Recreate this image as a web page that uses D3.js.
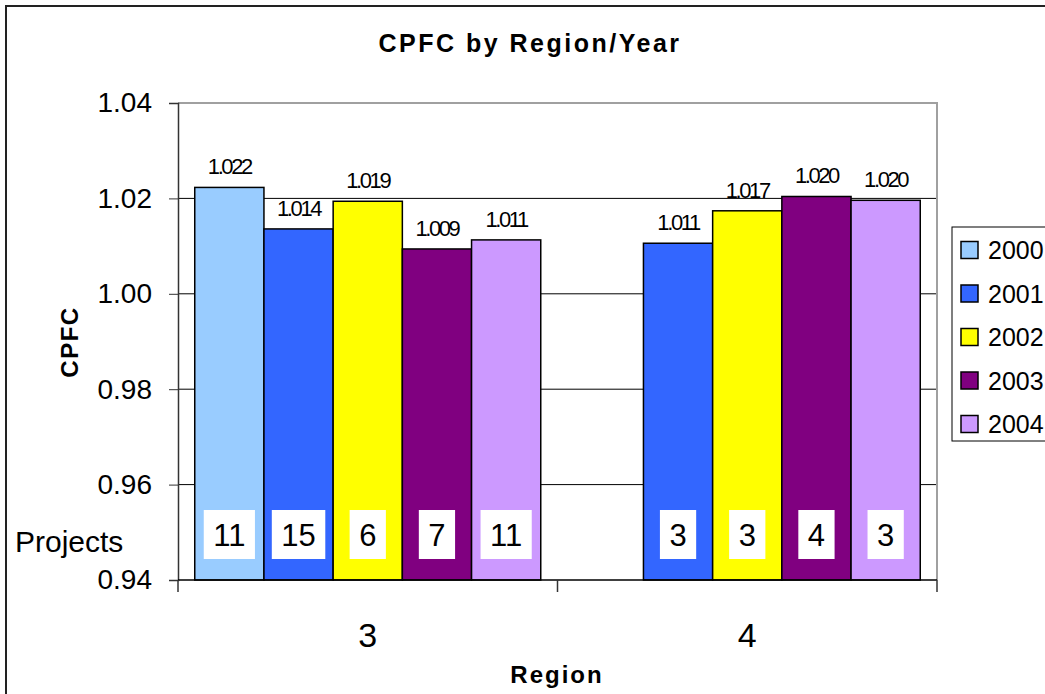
<!DOCTYPE html>
<html>
<head>
<meta charset="utf-8">
<script src="https://cdn.jsdelivr.net/npm/d3@7"></script>
<style>
  body { margin: 0; background: #fff; }
  svg { display: block; font-family: Arial, "Liberation Sans", sans-serif; }
</style>
</head>
<body>
<div id="chart"></div>
<script>
// CPFC by region / year
var regions = ["3", "4"];
var years = ["2000", "2001", "2002", "2003", "2004"];
var cpfc3 = [1.0223, 1.0136, 1.0194, 1.0094, 1.0113];
var cpfc4 = [null, 1.0106, 1.0174, 1.0204, 1.0196];
var projects3 = [11, 15, 6, 7, 11];
var projects4 = [null, 3, 3, 4, 3];
var yTicks = [0.94, 0.96, 0.98, 1.00, 1.02, 1.04];

var colors = ["#99CCFF", "#3366FF", "#FFFF00", "#800080", "#CC99FF"];

var width = 1045,
	height = 694;

var rows = [];
regions.forEach(function(r, i) {
	var vals = i == 0 ? cpfc3 : cpfc4;
	var projs = i == 0 ? projects3 : projects4;
	years.forEach(function(yr, j) {
		if (vals[j] != null) rows.push({ region: r, year: yr, value: vals[j], projects: projs[j] });
	});
});

var svg = d3.select("#chart").append("svg")
	.attr("width", width)
	.attr("height", height);

// outer chart border (runs off the page right and bottom)
svg.append("rect")
	.attr("x", 6).attr("y", 6)
	.attr("width", 1100).attr("height", 760)
	.attr("fill", "#fff")
	.attr("stroke", "#222")
	.attr("stroke-width", 2);

var plot = { left: 178, right: 937, top: 103, bottom: 580 };

var y = d3.scaleLinear()
	.domain([0.94, 1.04])
	.range([plot.bottom, plot.top]);

var x0 = d3.scaleBand()
	.domain(regions)
	.range([plot.left, plot.right])
	.padding(0);

var x1 = d3.scaleBand()
	.domain(years)
	.range([0, x0.bandwidth()])
	.paddingInner(0)
	.paddingOuter(0.242);

var color = d3.scaleOrdinal().domain(years).range(colors);

// gridlines
svg.append("g").selectAll("line")
	.data(yTicks.slice(1, -1))
	.enter().append("line")
	.attr("x1", plot.left).attr("x2", plot.right)
	.attr("y1", function(d) { return y(d); })
	.attr("y2", function(d) { return y(d); })
	.attr("stroke", "#000")
	.attr("stroke-width", 1);

// plot frame top / right (gray)
svg.append("path")
	.attr("d", "M" + plot.left + "," + y(1.04) + "H" + plot.right + "V" + plot.bottom)
	.attr("fill", "none")
	.attr("stroke", "#a0a0a0")
	.attr("stroke-width", 2);

// bars
svg.append("g").selectAll("rect")
	.data(rows)
	.enter().append("rect")
	.attr("x", function(d) { return x0(d.region) + x1(d.year); })
	.attr("y", function(d) { return y(d.value); })
	.attr("width", x1.bandwidth())
	.attr("height", function(d) { return y(0.94) - y(d.value); })
	.attr("fill", function(d) { return color(d.year); })
	.attr("stroke", "#000")
	.attr("stroke-width", 1.5);

// value labels
svg.append("g").selectAll("text")
	.data(rows)
	.enter().append("text")
	.attr("x", function(d) { return x0(d.region) + x1(d.year) + x1.bandwidth() / 2; })
	.attr("y", function(d) { return y(d.value) - 13; })
	.attr("text-anchor", "middle")
	.style("font-size", "22px")
	.style("letter-spacing", "-2.4px")
	.text(function(d) { return d3.format(".3f")(d.value); });

// project count boxes
var boxes = svg.append("g").selectAll("g")
	.data(rows)
	.enter().append("g")
	.attr("transform", function(d) {
		return "translate(" + (x0(d.region) + x1(d.year) + x1.bandwidth() / 2) + ",534.5)";
	});

boxes.append("text")
	.attr("text-anchor", "middle")
	.attr("y", 11)
	.style("font-size", "31px")
	.text(function(d) { return d.projects; })
	.each(function() {
		var w = this.getComputedTextLength();
		d3.select(this.parentNode).insert("rect", "text")
			.attr("x", -w / 2 - 9.5)
			.attr("y", -24.5)
			.attr("width", w + 19)
			.attr("height", 49)
			.attr("fill", "#fff");
	});

svg.append("text")
	.attr("x", 15).attr("y", 552)
	.style("font-size", "30px")
	.text("Projects");

// y axis
var yAxis = svg.append("g")
	.attr("transform", "translate(" + plot.left + ",0)")
	.call(d3.axisLeft(y).tickValues(yTicks).tickSize(9).tickPadding(17).tickFormat(d3.format(".2f")));
yAxis.select(".domain").attr("stroke", "#333").attr("stroke-width", 1.5);
yAxis.selectAll(".tick line").attr("stroke", "#333");
yAxis.selectAll(".tick text")
	.style("font-size", "28px")
	.style("font-family", "Arial, 'Liberation Sans', sans-serif")
	.attr("fill", "#000");

// x axis: labels centred, ticks between categories
var xAxis = svg.append("g")
	.attr("transform", "translate(0," + plot.bottom + ")")
	.call(d3.axisBottom(x0).tickSize(0).tickPadding(42.6));
xAxis.select(".domain").remove();
xAxis.selectAll(".tick text")
	.style("font-size", "34px")
	.style("font-family", "Arial, 'Liberation Sans', sans-serif")
	.attr("fill", "#000");

svg.append("line")
	.attr("x1", plot.left).attr("x2", plot.right)
	.attr("y1", plot.bottom).attr("y2", plot.bottom)
	.attr("stroke", "#000").attr("stroke-width", 1.5);

svg.append("g").selectAll("line")
	.data(regions.map(function(r) { return x0(r); }).concat([plot.right]))
	.enter().append("line")
	.attr("x1", function(d) { return d; }).attr("x2", function(d) { return d; })
	.attr("y1", plot.bottom).attr("y2", plot.bottom + 12)
	.attr("stroke", "#333").attr("stroke-width", 1.5);

// titles
svg.append("text")
	.attr("x", 530).attr("y", 52)
	.attr("text-anchor", "middle")
	.style("font-size", "25px").style("font-weight", "bold")
	.style("letter-spacing", "2.5px")
	.text("CPFC by Region/Year");

svg.append("text")
	.attr("x", 557).attr("y", 683)
	.attr("text-anchor", "middle")
	.style("font-size", "24px").style("font-weight", "bold")
	.style("letter-spacing", "2px")
	.text("Region");

svg.append("text")
	.attr("transform", "translate(78,342) rotate(-90)")
	.attr("text-anchor", "middle")
	.style("font-size", "24px").style("font-weight", "bold")
	.style("letter-spacing", "1.5px")
	.text("CPFC");

// legend
var legend = svg.append("g");
legend.append("rect")
	.attr("x", 952).attr("y", 227)
	.attr("width", 200).attr("height", 214)
	.attr("fill", "#fff")
	.attr("stroke", "#000")
	.attr("stroke-width", 1);

var item = legend.selectAll("g.item")
	.data(years)
	.enter().append("g")
	.attr("class", "item")
	.attr("transform", function(d, i) { return "translate(961," + (250 + i * 43.5) + ")"; });

item.append("rect")
	.attr("x", 0).attr("y", -8.5)
	.attr("width", 17).attr("height", 17)
	.attr("fill", function(d) { return color(d); })
	.attr("stroke", "#000")
	.attr("stroke-width", 1.5);

item.append("text")
	.attr("x", 27).attr("y", 9)
	.style("font-size", "25px")
	.text(function(d) { return d; });
</script>
</body>
</html>
